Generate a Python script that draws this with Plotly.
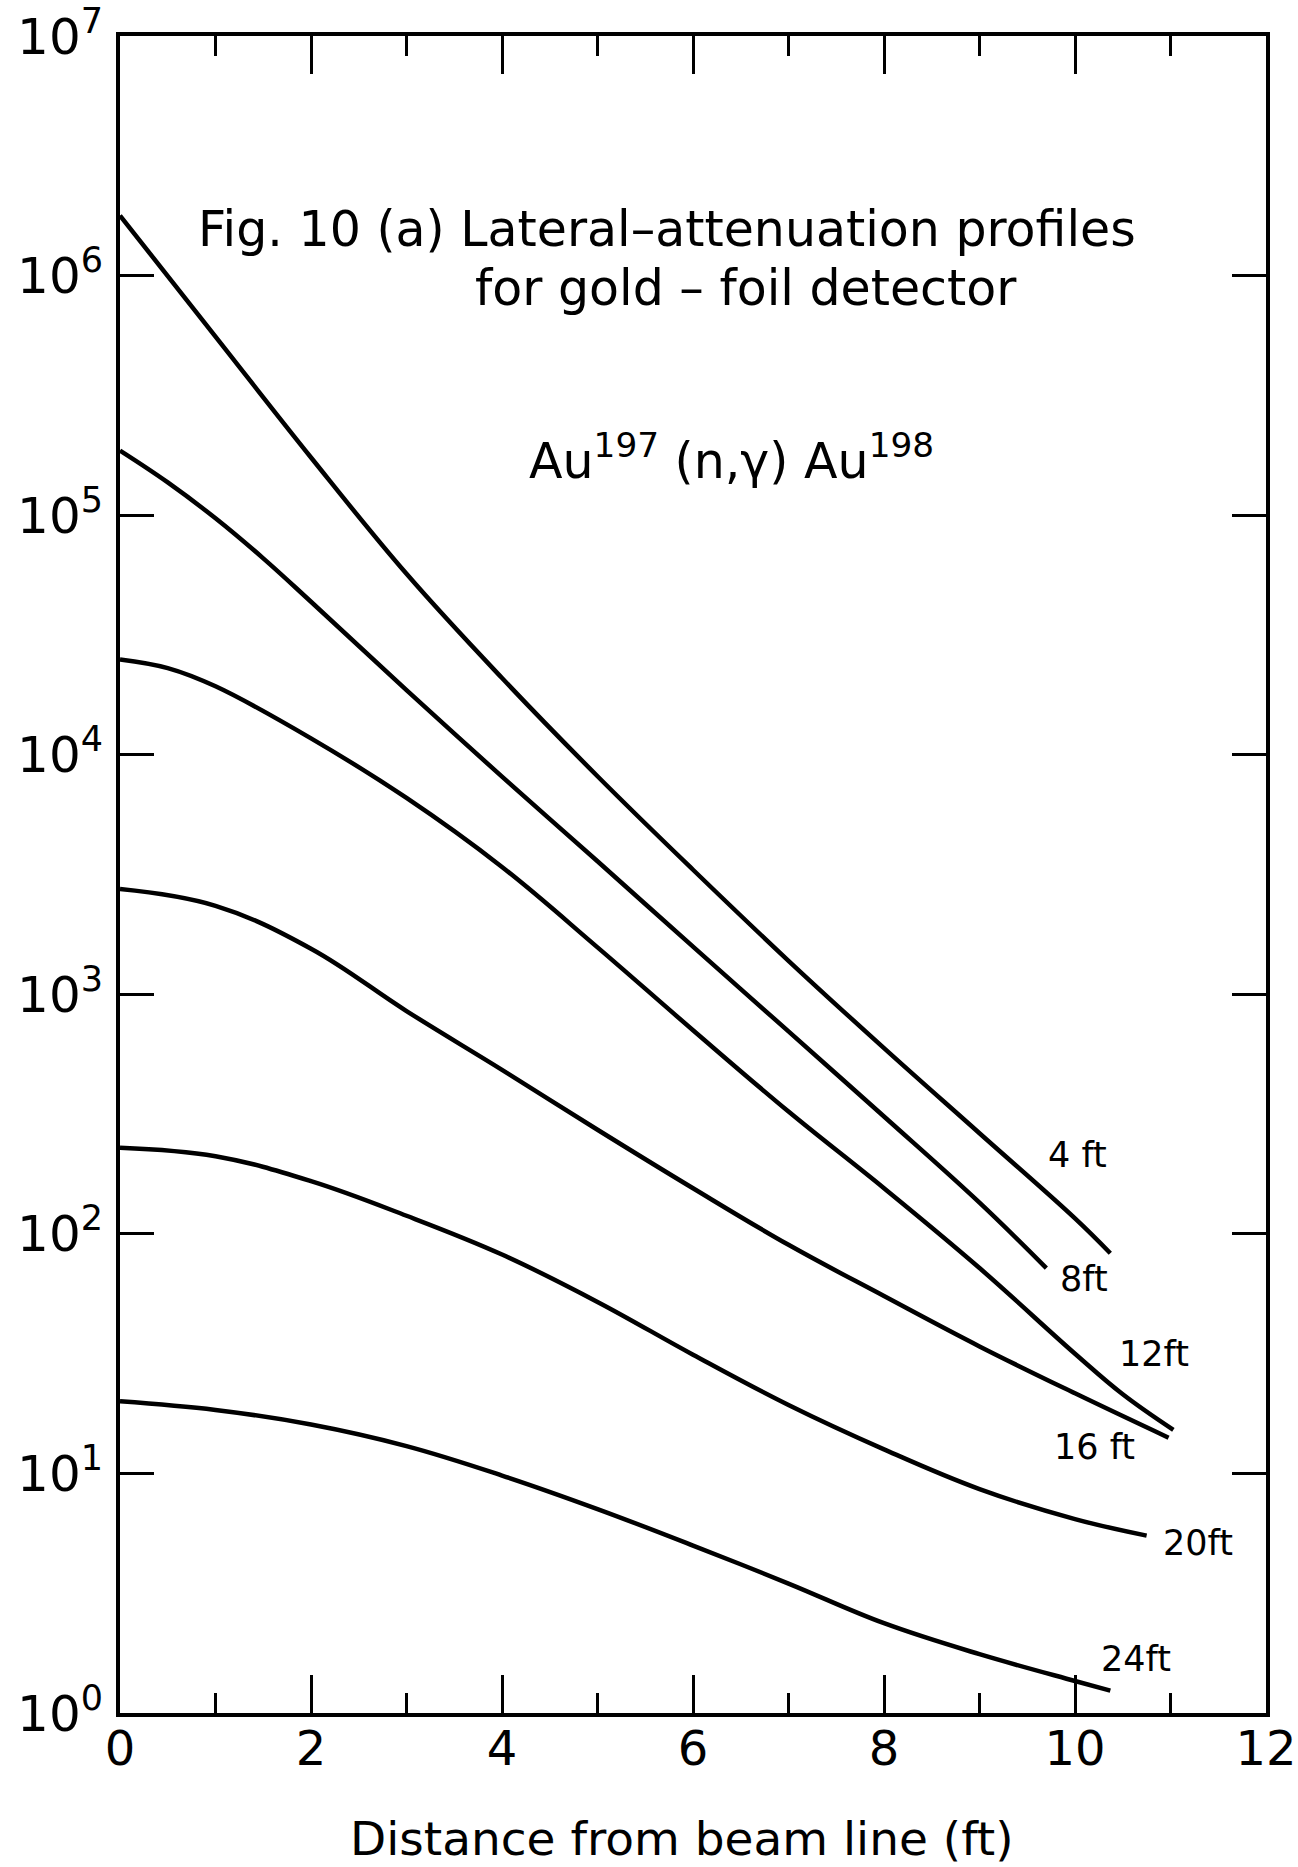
import plotly.graph_objects as go

# Distances from beam line (ft) and activation values
x_4ft = [0, 1, 2, 3, 4, 5, 6, 7, 8, 9, 10, 10.37]
y_4ft = [1.78e6, 5.56e5, 1.74e5, 5.69e4, 2.09e4, 8.13e3, 3.31e3, 1.38e3, 596, 263, 116, 83]

x_8ft = [0, 0.5, 1, 1.5, 2, 3, 4, 5, 6, 7, 8, 9, 9.7]
y_8ft = [1.86e5, 1.37e5, 9.7e4, 6.6e4, 4.35e4, 1.86e4, 8.1e3, 3.59e3, 1.58e3, 700, 309, 135, 72]

x_12ft = [0, 0.5, 1, 2, 3, 4, 5, 6, 7, 8, 9, 10, 10.5, 11.03]
y_12ft = [2.5e4, 2.3e4, 1.93e4, 1.17e4, 6.6e3, 3.4e3, 1.57e3, 708, 324, 155, 72, 31.6, 21.4, 15.2]

x_16ft = [0, 1, 2, 3, 4, 5, 6, 7, 8, 9, 10, 10.98]
y_16ft = [2750, 2340, 1550, 851, 484, 272, 155, 90, 55, 33.9, 21.6, 14.1]

x_20ft = [0, 1, 2, 3, 4, 5, 6, 7, 8, 9, 10, 10.75]
y_20ft = [229, 211, 166, 119, 82, 52, 31.3, 19.3, 12.6, 8.6, 6.45, 5.5]

x_24ft = [0, 1, 2, 3, 4, 5, 6, 7, 8, 9, 10, 10.37]
y_24ft = [20, 18.4, 16.0, 13.0, 9.8, 7.1, 5.0, 3.47, 2.37, 1.76, 1.36, 1.24]

series_names = ["4 ft", "8ft", "12ft", "16 ft", "20ft", "24ft"]
series_x = [x_4ft, x_8ft, x_12ft, x_16ft, x_20ft, x_24ft]
series_y = [y_4ft, y_8ft, y_12ft, y_16ft, y_20ft, y_24ft]

x_major_ticks = [0, 2, 4, 6, 8, 10, 12]
x_minor_ticks = [1, 3, 5, 7, 9, 11]
y_tick_vals = [1, 10, 100, 1e3, 1e4, 1e5, 1e6, 1e7]
y_tick_text = ["10<sup>%d</sup>" % i for i in range(8)]

FONT = "'DejaVu Sans', sans-serif"

fig = go.Figure()
for name, xs, ys in zip(series_names, series_x, series_y):
    fig.add_trace(go.Scatter(
        x=xs, y=ys, mode="lines", name=name,
        line=dict(color="black", width=4.5, shape="spline", smoothing=1.1),
        showlegend=False, hoverinfo="skip"))

# curve labels (positions in data units: x in ft, y as log10)
label_pos = {
    "4 ft": (10.03, 2.33),
    "8ft": (10.09, 1.81),
    "12ft": (10.83, 1.50),
    "16 ft": (10.20, 1.11),
    "20ft": (11.29, 0.71),
    "24ft": (10.64, 0.225),
}
for name in series_names:
    lx, ly = label_pos[name]
    fig.add_annotation(x=lx, y=ly, xref="x", yref="y", text=name, showarrow=False,
                       font=dict(family=FONT, size=35, color="black"),
                       xanchor="center", yanchor="middle")

fig.add_annotation(x=0.4773, y=0.8849, xref="paper", yref="paper",
                   text="Fig. 10 (a) Lateral–attenuation profiles", showarrow=False,
                   font=dict(family=FONT, size=49, color="black"),
                   xanchor="center", yanchor="middle")
fig.add_annotation(x=0.5462, y=0.8497, xref="paper", yref="paper",
                   text="for gold – foil detector", showarrow=False,
                   font=dict(family=FONT, size=49, color="black"),
                   xanchor="center", yanchor="middle")
fig.add_annotation(x=0.534, y=0.7484, xref="paper", yref="paper",
                   text="Au<sup>197</sup> (n,γ) Au<sup>198</sup>", showarrow=False,
                   font=dict(family=FONT, size=49, color="black"),
                   xanchor="center", yanchor="middle")
fig.add_annotation(x=0.4904, y=-0.0751, xref="paper", yref="paper",
                   text="Distance from beam line (ft)", showarrow=False,
                   font=dict(family=FONT, size=47, color="black"),
                   xanchor="center", yanchor="middle")

fig.update_layout(
    width=1298, height=1867,
    margin=dict(l=120, r=32, t=36, b=154, autoexpand=False),
    paper_bgcolor="white", plot_bgcolor="white",
    font=dict(family=FONT, color="black"),
    xaxis=dict(
        range=[0, 12], tickvals=x_major_ticks, ticktext=[str(v) for v in x_major_ticks],
        ticks="inside", ticklen=38, tickwidth=2.5, tickcolor="black",
        showline=True, linewidth=4, linecolor="black", mirror="allticks",
        showgrid=False, zeroline=False, automargin=False,
        tickfont=dict(family=FONT, size=48, color="black"),
        ticklabelstandoff=-10, ticklabeloverflow="allow",
        minor=dict(tickvals=x_minor_ticks, ticks="inside", ticklen=20,
                   tickwidth=2.5, tickcolor="black", showgrid=False),
    ),
    yaxis=dict(
        type="log", range=[0, 7], tickvals=y_tick_vals, ticktext=y_tick_text,
        ticks="inside", ticklen=34, tickwidth=2.5, tickcolor="black",
        showline=True, linewidth=4, linecolor="black", mirror="allticks",
        showgrid=False, zeroline=False, automargin=False,
        tickfont=dict(family=FONT, size=50, color="black"),
        ticklabelstandoff=3, ticklabeloverflow="allow",
    ),
)

# remove the default 8px page margin so the figure sits at the window origin
fig.write_html("out.html", config={"displayModeBar": False},
               post_script="document.body.style.margin='0px';")
